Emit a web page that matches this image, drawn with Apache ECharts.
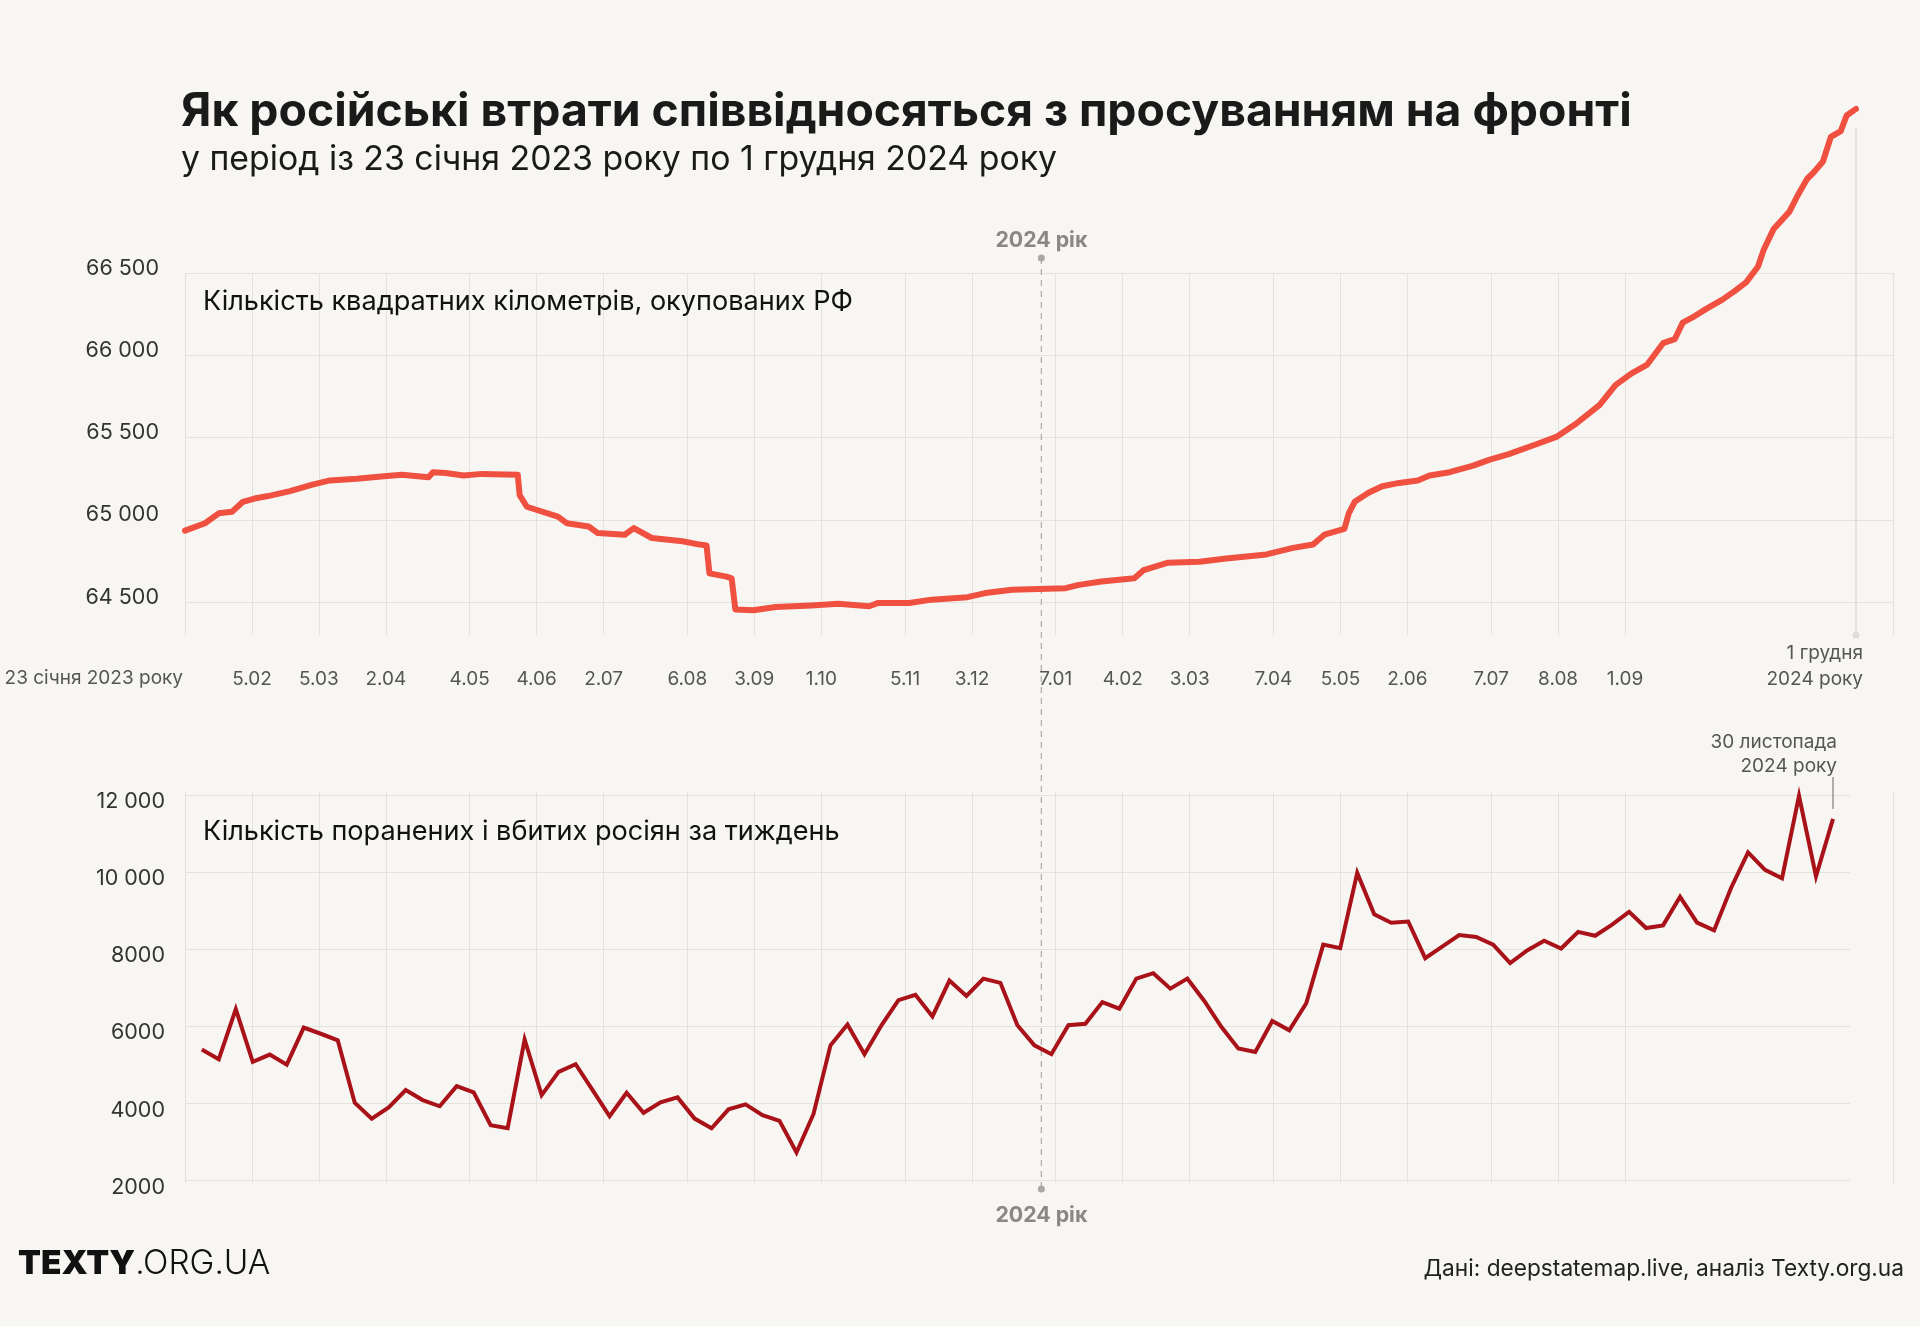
<!DOCTYPE html>
<html>
<head>
<meta charset="utf-8">
<script src="https://cdn.jsdelivr.net/npm/echarts@6/dist/echarts.min.js"></script>
<style>
html,body{margin:0;padding:0;background:#f7f6f2;}
#c{width:1920px;height:1326px;}
</style>
</head>
<body>
<div id="c"></div>
<script>
// ---- x grid (weeks from the start of the chart) and its labels ----
const tickWeeks = [0, 4, 8, 12, 17, 21, 25, 30, 34, 38, 43, 47, 52, 56, 60, 65, 69, 73, 78, 82, 86, 102];
const tickLabels = ['23 січня 2023 року', '5.02', '5.03', '2.04', '4.05', '4.06', '2.07', '6.08', '3.09', '1.10',
  '5.11', '3.12', '7.01', '4.02', '3.03', '7.04', '5.05', '2.06', '7.07', '8.08', '1.09', ''];
const yearMarkWeek = 51.14;            // 1 січня 2024

// ---- occupied territory, km² (days since 23.01.2023) ----
const areaDays = [0, 8.1, 13.7, 19.1, 23.5, 28.2, 33.7, 42.6, 51.7, 58.8, 69.7, 80.7, 88.0, 98.8, 100.6, 105.8, 113.1,
  120.4, 135.0, 135.8, 138.7, 151.3, 154.9, 163.8, 167.5, 178.4, 182.1, 189.4, 201.9, 208.8, 211.6, 212.8, 219.7,
  221.8, 223.3, 230.6, 239.7, 254.1, 265.0, 277.6, 281.3, 293.9, 302.9, 317.5, 324.7, 335.6, 346.4, 357.3, 362.7,
  371.8, 385.2, 389.0, 398.9, 411.6, 422.5, 438.8, 449.6, 457.7, 462.3, 470.4, 472.2, 474.6, 480.2, 485.8, 492.7,
  500.2, 505.0, 513.1, 522.7, 529.1, 537.1, 548.3, 556.4, 564.4, 574.0, 580.4, 586.8, 593.3, 599.7, 604.5, 607.7,
  612.6, 617.4, 623.8, 628.6, 633.4, 638.2, 640.6, 644.6, 651.0, 654.2, 658.2, 660.6, 664.6, 667.8, 671.8, 674.2, 678];
const areaValues = [64935, 64980, 65040, 65050, 65110, 65130, 65145, 65175, 65215, 65240, 65250, 65265, 65275, 65260,
  65290, 65285, 65270, 65280, 65275, 65150, 65080, 65020, 64980, 64960, 64920, 64910, 64950, 64890, 64870, 64850,
  64845, 64675, 64655, 64645, 64455, 64450, 64470, 64480, 64490, 64475, 64495, 64495, 64515, 64530, 64555, 64575,
  64580, 64585, 64605, 64625, 64645, 64695, 64740, 64745, 64765, 64790, 64830, 64850, 64910, 64945, 65040, 65110,
  65165, 65205, 65225, 65240, 65270, 65290, 65330, 65365, 65400, 65460, 65505, 65585, 65700, 65820, 65890, 65945,
  66075, 66100, 66200, 66240, 66285, 66340, 66390, 66445, 66540, 66645, 66770, 66875, 66970, 67075, 67110, 67180,
  67330, 67365, 67460, 67500];
const areaTotalDays = 678;             // 23.01.2023 – 1.12.2024
const areaYTicks = [64500, 65000, 65500, 66000, 66500];

// ---- weekly Russian casualties (weeks ending 28.01.2023 … 30.11.2024) ----
const lossValues = [5400, 5150, 6450, 5080, 5270, 5010, 5970, 5810, 5640, 4020, 3610, 3900, 4350, 4090, 3930, 4450,
  4290, 3440, 3360, 5660, 4220, 4820, 5020, 4350, 3670, 4280, 3760, 4030, 4160, 3610, 3360, 3850, 3980, 3700, 3550,
  2730, 3730, 5510, 6050, 5280, 6030, 6680, 6820, 6260, 7190, 6790, 7240, 7130, 6030, 5510, 5280, 6030, 6070, 6630,
  6460, 7240, 7380, 6980, 7240, 6660, 5990, 5430, 5340, 6140, 5900, 6600, 8120, 8030, 9980, 8910, 8690, 8720, 7770,
  8070, 8370, 8320, 8120, 7640, 7970, 8220, 8020, 8450, 8350, 8640, 8970, 8550, 8620, 9360, 8690, 8490, 9590, 10510,
  10060, 9840, 11980, 9890, 11380];
const lossFirstWeekEnd = Date.UTC(2023, 0, 28);
const lossWeeks = lossValues.map((_, i) => {
  const d = new Date(lossFirstWeekEnd + i * 7 * 86400000);
  return d.getUTCDate() + '.' + (d.getUTCMonth() + 1) + '.' + d.getUTCFullYear();
});
const lossYTicks = [2000, 4000, 6000, 8000, 10000, 12000];

// ---- texts ----
const TITLE = 'Як російські втрати співвідносяться з просуванням на фронті';
const SUBTITLE = 'у період із 23 січня 2023 року по 1 грудня 2024 року';
const PANEL_AREA = 'Кількість квадратних кілометрів, окупованих РФ';
const PANEL_LOSS = 'Кількість поранених і вбитих росіян за тиждень';
const SOURCE = 'Дані: deepstatemap.live, аналіз Texty.org.ua';

// ---- styling ----
const FONT = 'Inter, Lato, sans-serif';
const BG = '#f7f6f2';
const GRID = '#e4e2dd';
const AREA_COLOR = '#ef5040';
const LOSS_COLOR = '#a81218';

// font size that makes a text reach a given width
const mctx = document.createElement('canvas').getContext('2d');
function fit(text, weight, width) {
  mctx.font = weight + ' 100px ' + FONT;
  return Math.round(1000 * width / mctx.measureText(text).width) / 10;
}
const S_TITLE = fit(TITLE, 'bold', 1451);
const S_SUB = fit(SUBTITLE, 'normal', 876);
const S_PANEL = fit(PANEL_AREA, 'normal', 650);
const S_SRC = fit(SOURCE, 'normal', 481);
const S_YEAR = fit('2024 рік', 'bold', 92);
const S_XLAB = fit('23 січня 2023 року', 'normal', 178);
const S_YLAB = fit('66 500', 'normal', 73);
const S_LOGO = fit('TEXTY', '900', 117);

const fmtNum = v => v >= 10000 ? String(v).replace(/(\d)(?=(\d{3})+$)/g, '$1 ') : String(v);

const chart = echarts.init(document.getElementById('c'), null, {renderer: 'canvas'});

const option = {
  backgroundColor: BG,
  animation: false,
  textStyle: {fontFamily: FONT},
  grid: [
    {left: 185, right: 27, top: 273.3, bottom: 691},     // 0 top grid lines
    {left: 185, right: 64, top: 76, bottom: 691},        // 1 top series
    {left: 185, right: 27, top: 792, bottom: 143},       // 2 bottom vertical lines
    {left: 185, right: 70, top: 795, bottom: 145.3},     // 3 bottom horizontal lines
    {left: 201.8, right: 87, top: 795, bottom: 145.3}    // 4 bottom series
  ],
  xAxis: [
    {
      type: 'value', gridIndex: 0, min: 0, max: 102,
      axisLine: {show: false},
      axisTick: {show: false, customValues: tickWeeks},
      splitLine: {show: true, lineStyle: {color: GRID, width: 1}},
      axisLabel: {
        customValues: tickWeeks.slice(1, tickWeeks.length - 1),
        formatter: v => tickLabels[tickWeeks.indexOf(v)],
        color: '#555', fontSize: S_XLAB, fontFamily: FONT, margin: 35,
        hideOverlap: false
      }
    },
    {type: 'value', gridIndex: 1, min: 0, max: areaTotalDays, show: false},
    {
      type: 'value', gridIndex: 2, min: 0, max: 102,
      axisLine: {show: false},
      axisTick: {show: false, customValues: tickWeeks},
      axisLabel: {show: false},
      splitLine: {show: true, lineStyle: {color: GRID, width: 1}}
    },
    {type: 'value', gridIndex: 3, min: 0, max: 1, show: false},
    {type: 'category', gridIndex: 4, data: lossWeeks, boundaryGap: false, show: false}
  ],
  yAxis: [
    {
      type: 'value', gridIndex: 0, min: 64300, max: 66500,
      axisLine: {show: false},
      axisTick: {show: false, customValues: areaYTicks},
      splitLine: {show: true, lineStyle: {color: GRID, width: 1}},
      axisLabel: {
        customValues: areaYTicks, formatter: fmtNum,
        color: '#333', fontSize: S_YLAB, fontFamily: FONT, margin: 26,
        verticalAlign: 'bottom', lineHeight: 10
      }
    },
    {type: 'value', gridIndex: 1, min: 64300, max: 67700, show: false},
    {type: 'value', gridIndex: 2, min: 0, max: 1, show: false},
    {
      type: 'value', gridIndex: 3, min: 2000, max: 12000, interval: 2000,
      axisLine: {show: false}, axisTick: {show: false},
      splitLine: {show: true, lineStyle: {color: GRID, width: 1}},
      axisLabel: {
        formatter: fmtNum, color: '#333', fontSize: S_YLAB, fontFamily: FONT, margin: 20,
        verticalAlign: 'top', lineHeight: 13
      }
    },
    {type: 'value', gridIndex: 4, min: 2000, max: 12000, show: false}
  ],
  series: [
    {
      type: 'line', xAxisIndex: 1, yAxisIndex: 1,
      data: areaDays.map((d, i) => [d, areaValues[i]]),
      showSymbol: false, clip: false,
      lineStyle: {color: AREA_COLOR, width: 6, join: 'round', cap: 'round'},
      markLine: {
        silent: true, symbol: ['none', 'circle'], symbolSize: 7,
        label: {show: false},
        lineStyle: {color: '#dedcd8', width: 1.5, type: 'solid'},
        itemStyle: {color: '#c8c6c2'},
        data: [[{coord: [areaTotalDays, 67380]}, {coord: [areaTotalDays, 64300]}]]
      },
      z: 5
    },
    {
      type: 'line', xAxisIndex: 4, yAxisIndex: 4,
      data: lossValues,
      showSymbol: false, clip: false,
      lineStyle: {color: LOSS_COLOR, width: 4, join: 'miter', miterLimit: 10},
      z: 5
    }
  ]
};

chart.setOption(option);

// ---- annotations positioned through the axes ----
const yearX = chart.convertToPixel({xAxisIndex: 0}, yearMarkWeek);
const startX = chart.convertToPixel({xAxisIndex: 0}, 0);
const endTopX = chart.convertToPixel({xAxisIndex: 1}, areaTotalDays);
const lastLossX = chart.convertToPixel({xAxisIndex: 4}, lossWeeks.length - 1);
const lastLossY = chart.convertToPixel({yAxisIndex: 4}, lossValues[lossValues.length - 1]);

function txt(x, y, text, font, fill, align, valign) {
  return {type: 'text', x, y, silent: true, z: 10,
    style: {text, font, fill, textAlign: align || 'left', align: align || 'left',
      textVerticalAlign: valign || 'middle', verticalAlign: valign || 'middle'}};
}
const fx = (w, s) => w + ' ' + s + 'px ' + FONT;

chart.setOption({
  graphic: [
    txt(181, 112.5, TITLE, fx('bold', S_TITLE), '#1a1a1a'),
    txt(181, 160, SUBTITLE, fx('normal', S_SUB), '#1a1a1a'),
    txt(203, 302, PANEL_AREA, fx('normal', S_PANEL), '#111'),
    txt(203, 832, PANEL_LOSS, fx('normal', S_PANEL), '#111'),
    // 2024 year marker
    {type: 'line', silent: true, z: 3, shape: {x1: yearX, y1: 258, x2: yearX, y2: 1189},
      style: {stroke: '#b5b3af', lineWidth: 1.3, lineDash: [6, 5]}},
    {type: 'circle', silent: true, z: 3, shape: {cx: yearX, cy: 258, r: 3.5}, style: {fill: '#aaa8a4'}},
    {type: 'circle', silent: true, z: 3, shape: {cx: yearX, cy: 1189, r: 3.5}, style: {fill: '#aaa8a4'}},
    txt(yearX, 241, '2024 рік', fx('bold', S_YEAR), '#8a8884', 'center'),
    txt(yearX, 1216, '2024 рік', fx('bold', S_YEAR), '#8a8884', 'center'),
    // start / end labels
    txt(startX - 2, 678, '23 січня 2023 року', fx('normal', S_XLAB), '#555', 'right'),
    txt(endTopX + 7, 653, '1 грудня', fx('normal', S_XLAB), '#555', 'right'),
    txt(endTopX + 7, 679, '2024 року', fx('normal', S_XLAB), '#555', 'right'),
    txt(lastLossX + 4, 742, '30 листопада', fx('normal', S_XLAB), '#555', 'right'),
    txt(lastLossX + 4, 766, '2024 року', fx('normal', S_XLAB), '#555', 'right'),
    {type: 'line', silent: true, z: 3, shape: {x1: lastLossX, y1: 777, x2: lastLossX, y2: lastLossY - 10},
      style: {stroke: '#666', lineWidth: 1}},
    // footer
    {type: 'text', x: 18, y: 1264, silent: true,
      style: {text: '{a|TEXTY}{b|.ORG.UA}', textVerticalAlign: 'middle', verticalAlign: 'middle',
        rich: {a: {font: fx('900', S_LOGO), fill: '#111'}, b: {font: fx('300', S_LOGO), fill: '#111'}}}},
    txt(1904, 1269, SOURCE, fx('normal', S_SRC), '#222', 'right')
  ]
});
</script>
</body>
</html>
